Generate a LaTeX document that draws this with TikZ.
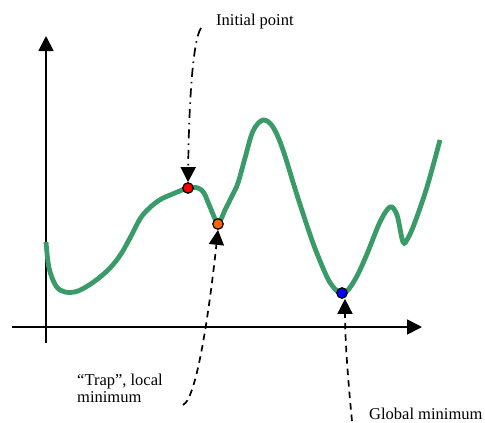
\documentclass[tikz,border=0pt]{standalone}
\usepackage{fontspec}
\setmainfont{Liberation Serif}
\usetikzlibrary{arrows.meta}
\definecolor{curvegreen}{RGB}{56,155,104}
\definecolor{trapor}{RGB}{255,102,0}
\begin{document}
\begin{tikzpicture}[x=1pt,y=-1pt,
  axisline/.style={line width=1.8pt,-{Triangle[length=15pt,width=15pt]}},
  curveline/.style={line width=4.8pt,curvegreen},
  ptnode/.style={circle,draw=black,line width=1.2pt,minimum size=10.5pt,inner sep=0pt},
  pointer/.style={line width=1.7pt,-{Triangle[length=15pt,width=15pt]}},
  dashdotline/.style={dash pattern=on 9pt off 5pt on 1.5pt off 5pt},
  dashline/.style={dash pattern=on 6.5pt off 5pt},
  lbl/.style={inner sep=0pt,anchor=base west,align=left,font=\rmfamily\fontsize{16.5}{17}\selectfont}]
\useasboundingbox (0,0) rectangle (485,423);
% axes
\coordinate (ybot) at (46,343);
\coordinate (ytop) at (46,36);
\coordinate (xleft) at (12,327);
\coordinate (xright) at (422,327);
\draw[axisline] (ybot) -- (ytop);
\draw[axisline] (xleft) -- (xright);
% curve
\draw[curveline] plot[smooth,tension=0.55] coordinates {
(46,242) (49,268) (56,286) (65,292) (78,291) (95,281) (110,268) (121,254)
(130,238) (142,216) (158,201) (175,193) (188,188) (198,188) (204,193)
(210,207) (218,223) (225,210) (232,196) (238,183) (245,158) (253,131)
(263,120) (273,127) (283,150) (297,195) (313,243) (327,277) (335,289)
(341,293) (348,290) (357,276) (367,254) (380,222) (390,207) (397,215)
(403,242) (408,238) (415,222) (427,187) (440,140)};
% points
\node[ptnode,fill=red] (red) at (188,188) {};
\node[ptnode,fill=trapor] (orange) at (218,224) {};
\node[ptnode,fill=blue] (blue) at (342,293) {};
% labels
\node[lbl] (initlbl) at (216,25) {Initial point};
\node[lbl] (traplbl) at (77,402) {“Trap”, local\\minimum};
\node[lbl] (globlbl) at (369,419) {Global minimum};
% pointers
\coordinate (istart) at (201,28);
\coordinate (tstart) at (183,405);
\coordinate (gstart) at (352,421);
\draw[pointer,dashdotline] (istart) .. controls (193,40) and (189,100) .. (red.north);
\draw[pointer,dashline] (tstart) .. controls (198,398) and (211,295) .. (orange.south);
\draw[pointer,dashline] (gstart) .. controls (348,380) and (345,340) .. ([xshift=3pt]blue.south);
\end{tikzpicture}
\end{document}
